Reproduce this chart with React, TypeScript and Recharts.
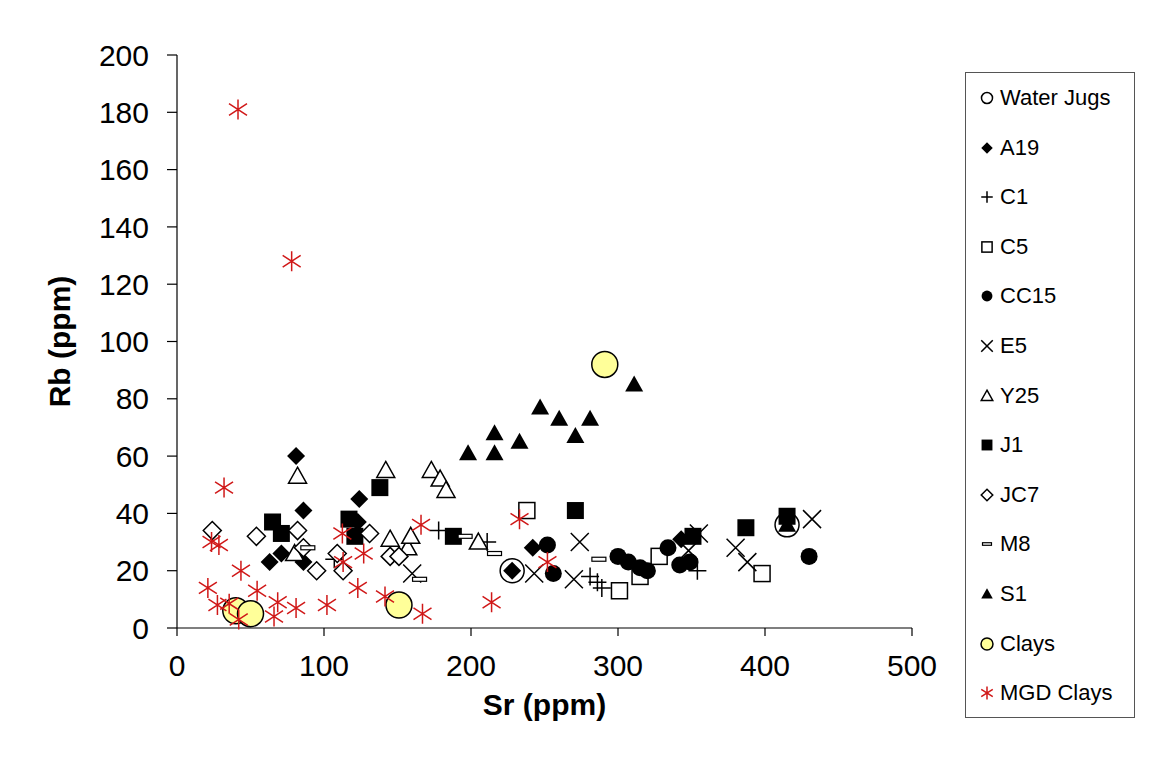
import React from "react";
import { ScatterChart, Scatter, XAxis, YAxis, Label } from "recharts";

type Pt = { sr: number; rb: number };
const p = (sr: number, rb: number): Pt => ({ sr, rb });

// values
const waterJugs: Pt[] = [p(228, 20), p(415, 36)];
const a19: Pt[] = [
  p(81, 60), p(86, 41), p(124, 45), p(123, 37), p(71, 26),
  p(63, 23), p(86, 23), p(228, 20), p(242, 28), p(343, 31),
];
const c1: Pt[] = [
  p(107, 24), p(178, 34), p(211, 30), p(281, 18), p(286, 16),
  p(289, 14), p(354, 20),
];
const c5: Pt[] = [p(238, 41), p(301, 13), p(315, 18), p(328, 25), p(398, 19)];
const cc15: Pt[] = [
  p(252, 29), p(256, 19), p(300, 25), p(307, 23), p(315, 21),
  p(320, 20), p(334, 28), p(342, 22), p(349, 23), p(430, 25),
];
const e5: Pt[] = [
  p(160, 19), p(243, 19), p(270, 17), p(274, 30), p(348, 27),
  p(355, 33), p(380, 28), p(388, 23), p(432, 38),
];
const y25: Pt[] = [
  p(80, 26), p(82, 53), p(142, 55), p(145, 31), p(157, 28),
  p(159, 32), p(173, 55), p(179, 52), p(183, 48), p(205, 30),
];
const j1: Pt[] = [
  p(65, 37), p(71, 33), p(117, 38), p(121, 32), p(138, 49),
  p(188, 32), p(271, 41), p(351, 32), p(387, 35), p(415, 39),
];
const jc7: Pt[] = [
  p(24, 34), p(54, 32), p(82, 34), p(86, 28), p(95, 20),
  p(109, 26), p(113, 20), p(131, 33), p(145, 25), p(151, 25),
];
const m8: Pt[] = [p(89, 28), p(165, 17), p(196, 32), p(216, 26), p(287, 24)];
const s1: Pt[] = [
  p(198, 61), p(216, 68), p(216, 61), p(233, 65), p(247, 77),
  p(260, 73), p(271, 67), p(281, 73), p(311, 85), p(415, 36),
];
const clays: Pt[] = [p(40, 6), p(50, 5), p(151, 8), p(291, 92)];
const mgdClays: Pt[] = [
  p(41.5, 181), p(78, 128), p(32, 49), p(23.5, 30), p(28.5, 29),
  p(43.5, 20), p(21, 14), p(54.5, 13), p(27.5, 8), p(35.5, 8.5),
  p(42, 3), p(68.5, 9), p(66, 4), p(81, 7), p(102, 8),
  p(112.5, 33), p(113, 23), p(127, 26), p(123, 14), p(141.5, 11),
  p(166, 36), p(167, 5), p(233, 38), p(252, 23), p(214, 9),
];

const xTicks = [0, 100, 200, 300, 400, 500];
const yTicks = [0, 20, 40, 60, 80, 100, 120, 140, 160, 180, 200];

type Kind =
  | "ring" | "diamond" | "plus" | "square" | "dot" | "cross" | "triangle"
  | "block" | "openDiamond" | "dash" | "solidTriangle" | "clay" | "star";

const series: { name: string; data: Pt[]; kind: Kind }[] = [
  { name: "Water Jugs", data: waterJugs, kind: "ring" },
  { name: "A19", data: a19, kind: "diamond" },
  { name: "C1", data: c1, kind: "plus" },
  { name: "C5", data: c5, kind: "square" },
  { name: "CC15", data: cc15, kind: "dot" },
  { name: "E5", data: e5, kind: "cross" },
  { name: "Y25", data: y25, kind: "triangle" },
  { name: "J1", data: j1, kind: "block" },
  { name: "JC7", data: jc7, kind: "openDiamond" },
  { name: "M8", data: m8, kind: "dash" },
  { name: "S1", data: s1, kind: "solidTriangle" },
  { name: "Clays", data: clays, kind: "clay" },
  { name: "MGD Clays", data: mgdClays, kind: "star" },
];

const font = '"Liberation Sans", Arial, sans-serif';
const RED = "#d01818";

const Marker = ({ kind, cx, cy, s = 1 }: { kind: Kind; cx: number; cy: number; s?: number }) => {
  const sw = 1.5;
  switch (kind) {
    case "ring":
      return <circle cx={cx} cy={cy} r={12 * s} fill="none" stroke="#000" strokeWidth={sw} />;
    case "clay":
      return <circle cx={cx} cy={cy} r={13 * s} fill="#ffff99" stroke="#000" strokeWidth={sw} />;
    case "dot":
      return <circle cx={cx} cy={cy} r={8.5 * s} fill="#000" />;
    case "diamond":
    case "openDiamond": {
      const h = 9 * s;
      const open = kind === "openDiamond";
      return (
        <polygon
          points={`${cx},${cy - h} ${cx + h},${cy} ${cx},${cy + h} ${cx - h},${cy}`}
          fill={open ? "#fff" : "#000"}
          stroke="#000"
          strokeWidth={open ? sw : 0}
        />
      );
    }
    case "square":
      return (
        <rect x={cx - 8 * s} y={cy - 8 * s} width={16 * s} height={16 * s}
          fill="#fff" stroke="#000" strokeWidth={sw} />
      );
    case "block":
      return <rect x={cx - 8.5 * s} y={cy - 8.5 * s} width={17 * s} height={17 * s} fill="#000" />;
    case "plus": {
      const h = 9 * s;
      return (
        <path d={`M${cx - h},${cy}H${cx + h}M${cx},${cy - h}V${cy + h}`} stroke="#000" strokeWidth={sw} />
      );
    }
    case "cross": {
      const h = 9 * s;
      return (
        <path
          d={`M${cx - h},${cy - h}L${cx + h},${cy + h}M${cx - h},${cy + h}L${cx + h},${cy - h}`}
          stroke="#000" strokeWidth={sw}
        />
      );
    }
    case "triangle":
    case "solidTriangle": {
      const w = 9 * s;
      const open = kind === "triangle";
      return (
        <polygon
          points={`${cx},${cy - 9 * s} ${cx + w},${cy + 7 * s} ${cx - w},${cy + 7 * s}`}
          fill={open ? "#fff" : "#000"}
          stroke="#000"
          strokeWidth={open ? sw : 0}
        />
      );
    }
    case "dash":
      return (
        <rect x={cx - 7 * s} y={cy - 2 * s} width={14 * s} height={4 * s}
          fill="#fff" stroke="#000" strokeWidth={1.2} />
      );
    case "star": {
      const h = 10 * s;
      const d = 9 * s;
      return (
        <path
          d={`M${cx},${cy - h}V${cy + h}M${cx - d},${cy - d * 0.65}L${cx + d},${cy + d * 0.65}M${cx - d},${cy + d * 0.65}L${cx + d},${cy - d * 0.65}`}
          stroke={RED} strokeWidth={sw}
        />
      );
    }
  }
  return null;
};

// legend markers are drawn smaller than the plotted ones
const legendScale = (k: Kind) => (k === "ring" || k === "clay" ? 0.46 : 0.64);

const LegendBox = () => (
  <div
    style={{
      position: "absolute",
      left: 965,
      top: 72,
      width: 170,
      height: 646,
      boxSizing: "border-box",
      border: "1.5px solid #555",
      background: "#fff",
      fontFamily: font,
      fontSize: 22,
    }}
  >
    {series.map((s, i) => (
      <div
        key={s.name}
        style={{
          position: "absolute",
          left: 0,
          top: 25 + i * 49.6 - 15,
          height: 30,
          display: "flex",
          alignItems: "center",
          whiteSpace: "nowrap",
        }}
      >
        <svg width={34} height={30} style={{ display: "block" }}>
          <Marker kind={s.kind} cx={21} cy={15} s={legendScale(s.kind)} />
        </svg>
        <span style={{ color: "#000" }}>{s.name}</span>
      </div>
    ))}
  </div>
);

const tickStyle = { fill: "#000", fontSize: 30, fontFamily: font };

export default function App() {
  return (
    <div
      style={{
        position: "relative",
        width: 1154,
        height: 770,
        margin: -8,
        overflow: "hidden",
        background: "#fff",
      }}
    >
      <div
        style={{
          position: "absolute",
          left: 6,
          top: 5,
          right: -10,
          bottom: -10,
          borderLeft: "1.5px solid #808080",
          borderTop: "1.5px solid #808080",
        }}
      />
      <div style={{ position: "absolute", left: 0, top: 0 }}>
        <ScatterChart
          width={1154}
          height={770}
          margin={{ top: 55, right: 242, bottom: 62, left: 57 }}
        >
          <XAxis
            dataKey="sr"
            type="number"
            domain={[0, 500]}
            ticks={xTicks}
            interval={0}
            height={80}
            tickSize={8}
            tickMargin={19}
            tick={tickStyle}
            axisLine={{ stroke: "#000", strokeWidth: 1.2 }}
            tickLine={{ stroke: "#000", strokeWidth: 1.2 }}
          >
            <Label
              content={({ viewBox }: any) => (
                <text
                  x={viewBox.x + viewBox.width / 2}
                  y={viewBox.y + 87}
                  textAnchor="middle"
                  fontFamily={font}
                  fontSize={30}
                  fontWeight="bold"
                  fill="#000"
                >
                  Sr (ppm)
                </text>
              )}
            />
          </XAxis>
          <YAxis
            dataKey="rb"
            type="number"
            domain={[0, 200]}
            ticks={yTicks}
            interval={0}
            width={120}
            tickSize={10}
            tickMargin={18}
            tick={tickStyle}
            axisLine={{ stroke: "#000", strokeWidth: 1.2 }}
            tickLine={{ stroke: "#000", strokeWidth: 1.2 }}
          >
            <Label
              content={({ viewBox }: any) => {
                const cx = viewBox.x + 13;
                const cy = viewBox.y + viewBox.height / 2;
                return (
                  <text
                    x={cx}
                    y={cy}
                    transform={`rotate(-90 ${cx} ${cy})`}
                    textAnchor="middle"
                    fontFamily={font}
                    fontSize={30}
                    fontWeight="bold"
                    fill="#000"
                  >
                    Rb (ppm)
                  </text>
                );
              }}
            />
          </YAxis>
          {series.map((s) => (
            <Scatter
              key={s.name}
              name={s.name}
              data={s.data}
              isAnimationActive={false}
              shape={(props: any) => <Marker kind={s.kind} cx={props.cx} cy={props.cy} />}
            />
          ))}
        </ScatterChart>
      </div>
      <LegendBox />
    </div>
  );
}
